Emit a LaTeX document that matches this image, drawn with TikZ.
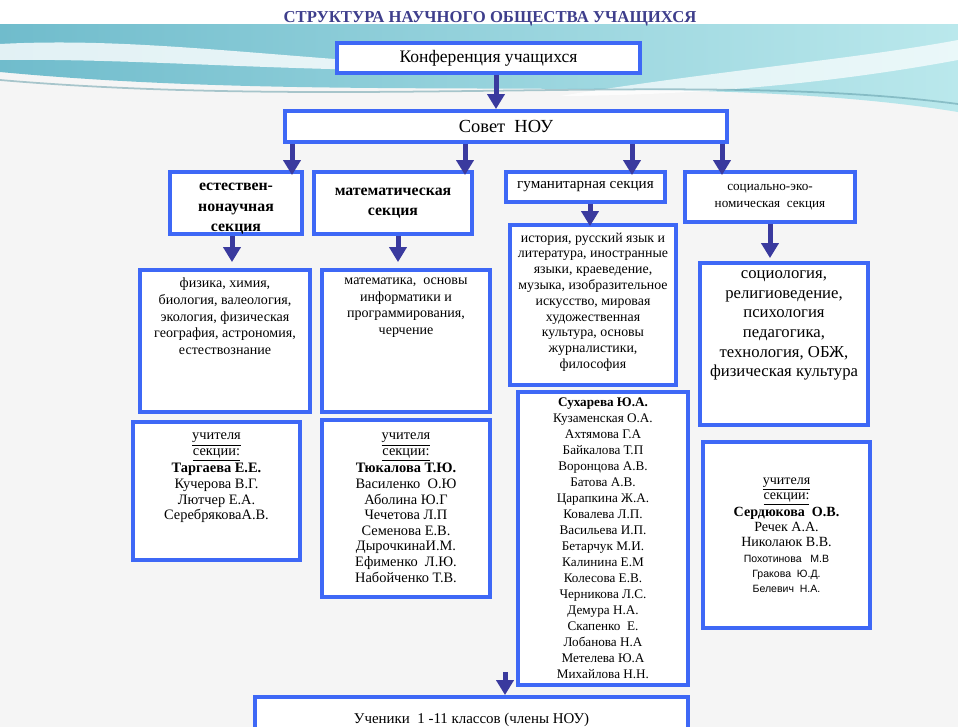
\documentclass[tikz,border=0pt]{standalone}
\usepackage{fontspec}
\setmainfont{Liberation Serif}
\setsansfont{Liberation Sans}
\usetikzlibrary{arrows.meta}

\definecolor{boxblue}{RGB}{62,104,246}
\definecolor{arrblue}{RGB}{58,58,158}
\definecolor{titleblue}{RGB}{62,62,140}
\definecolor{bggray}{RGB}{245,245,245}
\definecolor{tealA}{RGB}{112,188,204}
\definecolor{tealB}{RGB}{186,232,236}

% text block of fixed size, lines kept at the top
\newcommand{\topblock}[3]{\parbox[c][#2][t]{#1}{\centering #3}}
\newcommand{\midblock}[3]{\parbox[c][#2][c]{#1}{\centering #3}}

\begin{document}
\begin{tikzpicture}[
  x=0.02cm, y=-0.02cm,
  box/.style={draw=boxblue, line width=2.2pt, fill=white, inner sep=0.15cm},
  secbox/.style={box, inner sep=1pt, align=center},
  arr/.style={draw=arrblue, line width=0.1cm, -{Triangle[width=0.34cm,length=0.3cm]}},
  listfont/.style={font=\fontsize{8.2}{8.9}\selectfont},
]
\useasboundingbox (0,0) rectangle (958,727);
\clip (0,0) rectangle (958,727);

% background
\fill[bggray] (0,0) rectangle (958,727);
\fill[white] (0,0) rectangle (958,24);
\shade[left color=tealA, right color=tealB] (0,24) -- (958,24) -- (958,112)
  .. controls (700,70) and (350,105) .. (0,72) -- cycle;
\fill[white, opacity=0.8] (0,44) .. controls (150,36) and (300,62) .. (520,70)
  .. controls (300,74) and (150,58) .. (0,60) -- cycle;
\fill[white, opacity=0.7] (560,96) .. controls (720,70) and (850,60) .. (958,40)
  -- (958,60) .. controls (850,80) and (720,95) .. (560,96) -- cycle;
\draw[tealA!80!black, opacity=0.5, line width=1pt] (0,80) .. controls (350,110) and (700,70) .. (958,104);

\node[font=\fontsize{9.5}{11}\selectfont\bfseries, text=titleblue] (title) at (490,19)
  {СТРУКТУРА НАУЧНОГО ОБЩЕСТВА УЧАЩИХСЯ};

\node[box, minimum width=6.06cm, minimum height=0.6cm, inner sep=1pt,
  font=\fontsize{10}{12}\selectfont] (konf) at (488.5,58) {Конференция учащихся};
\node[box, minimum width=8.84cm, minimum height=0.62cm, inner sep=1pt,
  font=\fontsize{10.5}{12}\selectfont] (sovet) at (506,126.5) {Совет\ \ НОУ};

% sections
\node[secbox, minimum width=2.64cm, minimum height=1.24cm] (sec1) at (236,203) {};
\node[anchor=north, inner sep=0pt, align=center,
  font=\fontsize{9}{11.6}\selectfont\bfseries] (sec1text) at ([yshift=-0.26cm]sec1.north)
  {естествен-\\нонаучная\\секция};
\node[secbox, minimum width=3.16cm, minimum height=1.24cm,
  font=\fontsize{9}{11}\selectfont\bfseries] (sec2) at (393,203)
  {математическая\\секция};
\node[secbox, minimum width=3.18cm, minimum height=0.6cm,
  font=\fontsize{8.6}{9}\selectfont] (sec3) at (585.5,187)
  {гуманитарная секция};
\node[secbox, minimum width=3.4cm, minimum height=1.0cm,
  font=\fontsize{7.5}{9.5}\selectfont] (sec4) at (770,197)
  {социально-эко-\\номическая\ \ секция};

% subjects
\node[box, font=\fontsize{8}{9.6}\selectfont] (subj1) at (225,341)
  {\topblock{3.1cm}{2.54cm}{физика, химия,\\ биология, валеология,\\ экология, физическая\\
   география, астрономия,\\ естествознание}};
\node[box, font=\fontsize{8}{9.6}\selectfont] (subj2) at (406,341)
  {\topblock{3.06cm}{2.54cm}{математика,\ \ основы\\ информатики и\\ программирования,\\ черчение}};
\node[box, font=\fontsize{7.9}{9}\selectfont] (subj3) at (593,305)
  {\topblock{3.02cm}{2.9cm}{история, русский язык и\\ литература, иностранные\\
   языки, краеведение,\\ музыка, изобразительное\\ искусство, мировая\\
   художественная\\ культура, основы\\ журналистики,\\ философия}};
\node[box, font=\fontsize{9.5}{11.2}\selectfont] (subj4) at (784,344)
  {\topblock{3.06cm}{2.94cm}{социология,\\ религиоведение,\\ психология\\ педагогика,\\
   технология, ОБЖ,\\ физическая культура}};

% teachers
\node[box, listfont] (teach1) at (216.5,491)
  {\topblock{3.04cm}{2.46cm}{\vspace*{2pt}\underline{учителя}\\ \underline{секции:}\\
   \textbf{Таргаева Е.Е.}\\ Кучерова В.Г.\\ Лютчер Е.А.\\ СеребряковаА.В.}};
\node[box, listfont] (teach2) at (406,508.5)
  {\topblock{3.06cm}{3.24cm}{\vspace*{3pt}\underline{учителя}\\ \underline{секции:}\\
   \textbf{Тюкалова Т.Ю.}\\ Василенко\ \ О.Ю\\ Аболина Ю.Г\\ Чечетова Л.П\\
   Семенова Е.В.\\ ДырочкинаИ.М.\\ Ефименко\ \ Л.Ю.\\ Набойченко Т.В.}};
\node[box, font=\fontsize{7.5}{9.1}\selectfont, inner sep=0.08cm] (teach3) at (603,538.5)
  {\topblock{3.24cm}{5.7cm}{\vspace*{1pt}\textbf{Сухарева Ю.А.}\\ Кузаменская О.А.\\ Ахтямова Г.А\\
   Байкалова Т.П\\ Воронцова А.В.\\ Батова А.В.\\ Царапкина Ж.А.\\ Ковалева Л.П.\\
   Васильева И.П.\\ Бетарчук М.И.\\ Калинина Е.М\\ Колесова Е.В.\\ Черникова Л.С.\\
   Демура Н.А.\\ Скапенко\ \ Е.\\ Лобанова Н.А\\ Метелева Ю.А\\ Михайлова Н.Н.}};
\node[box, font=\fontsize{8}{8.6}\selectfont] (teach4) at (786.5,535)
  {\midblock{3.04cm}{3.42cm}{\underline{учителя}\\ \underline{секции:}\\
   \textbf{Сердюкова\ \ О.В.}\\ Речек А.А.\\ Николаюк В.В.\\
   {\sffamily\fontsize{6}{8.6}\selectfont Похотинова\ \ \ М.В}\\
   {\sffamily\fontsize{6}{8.6}\selectfont Гракова\ \ Ю.Д.}\\
   {\sffamily\fontsize{6}{8.6}\selectfont Белевич\ \ Н.А.}}};

\node[box, minimum width=8.66cm, minimum height=0.92cm, inner sep=1pt,
  font=\fontsize{8.5}{10}\selectfont] (pupils) at (471.5,720)
  {Ученики\ \ 1 -11 классов (члены НОУ)};

% arrow positions
\coordinate (x0) at (496,0);
\coordinate (x1) at (292,0);
\coordinate (x2) at (465,0);
\coordinate (x3) at (632,0);
\coordinate (x4) at (722,0);
\coordinate (x5) at (232,0);
\coordinate (x6) at (398,0);
\coordinate (x7) at (590,0);
\coordinate (x8) at (770,0);
\coordinate (p0) at (505,672);

\draw[arr] (konf.south -| x0) -- (sovet.north -| x0);
\draw[arr, shorten >=-0.1cm] (sovet.south -| x1) -- (sec1.north -| x1);
\draw[arr, shorten >=-0.1cm] (sovet.south -| x2) -- (sec2.north -| x2);
\draw[arr, shorten >=-0.1cm] (sovet.south -| x3) -- (sec3.north -| x3);
\draw[arr, shorten >=-0.1cm] (sovet.south -| x4) -- (sec4.north -| x4);
\draw[arr, shorten >=0.12cm] (sec1.south -| x5) -- (subj1.north -| x5);
\draw[arr, shorten >=0.12cm] (sec2.south -| x6) -- (subj2.north -| x6);
\draw[arr, shorten >=-0.06cm] (sec3.south -| x7) -- (subj3.north -| x7);
\draw[arr, shorten >=0.06cm] (sec4.south -| x8) -- (subj4.north -| x8);
\draw[arr] (p0) -- (pupils.north -| p0);

\end{tikzpicture}
\end{document}
